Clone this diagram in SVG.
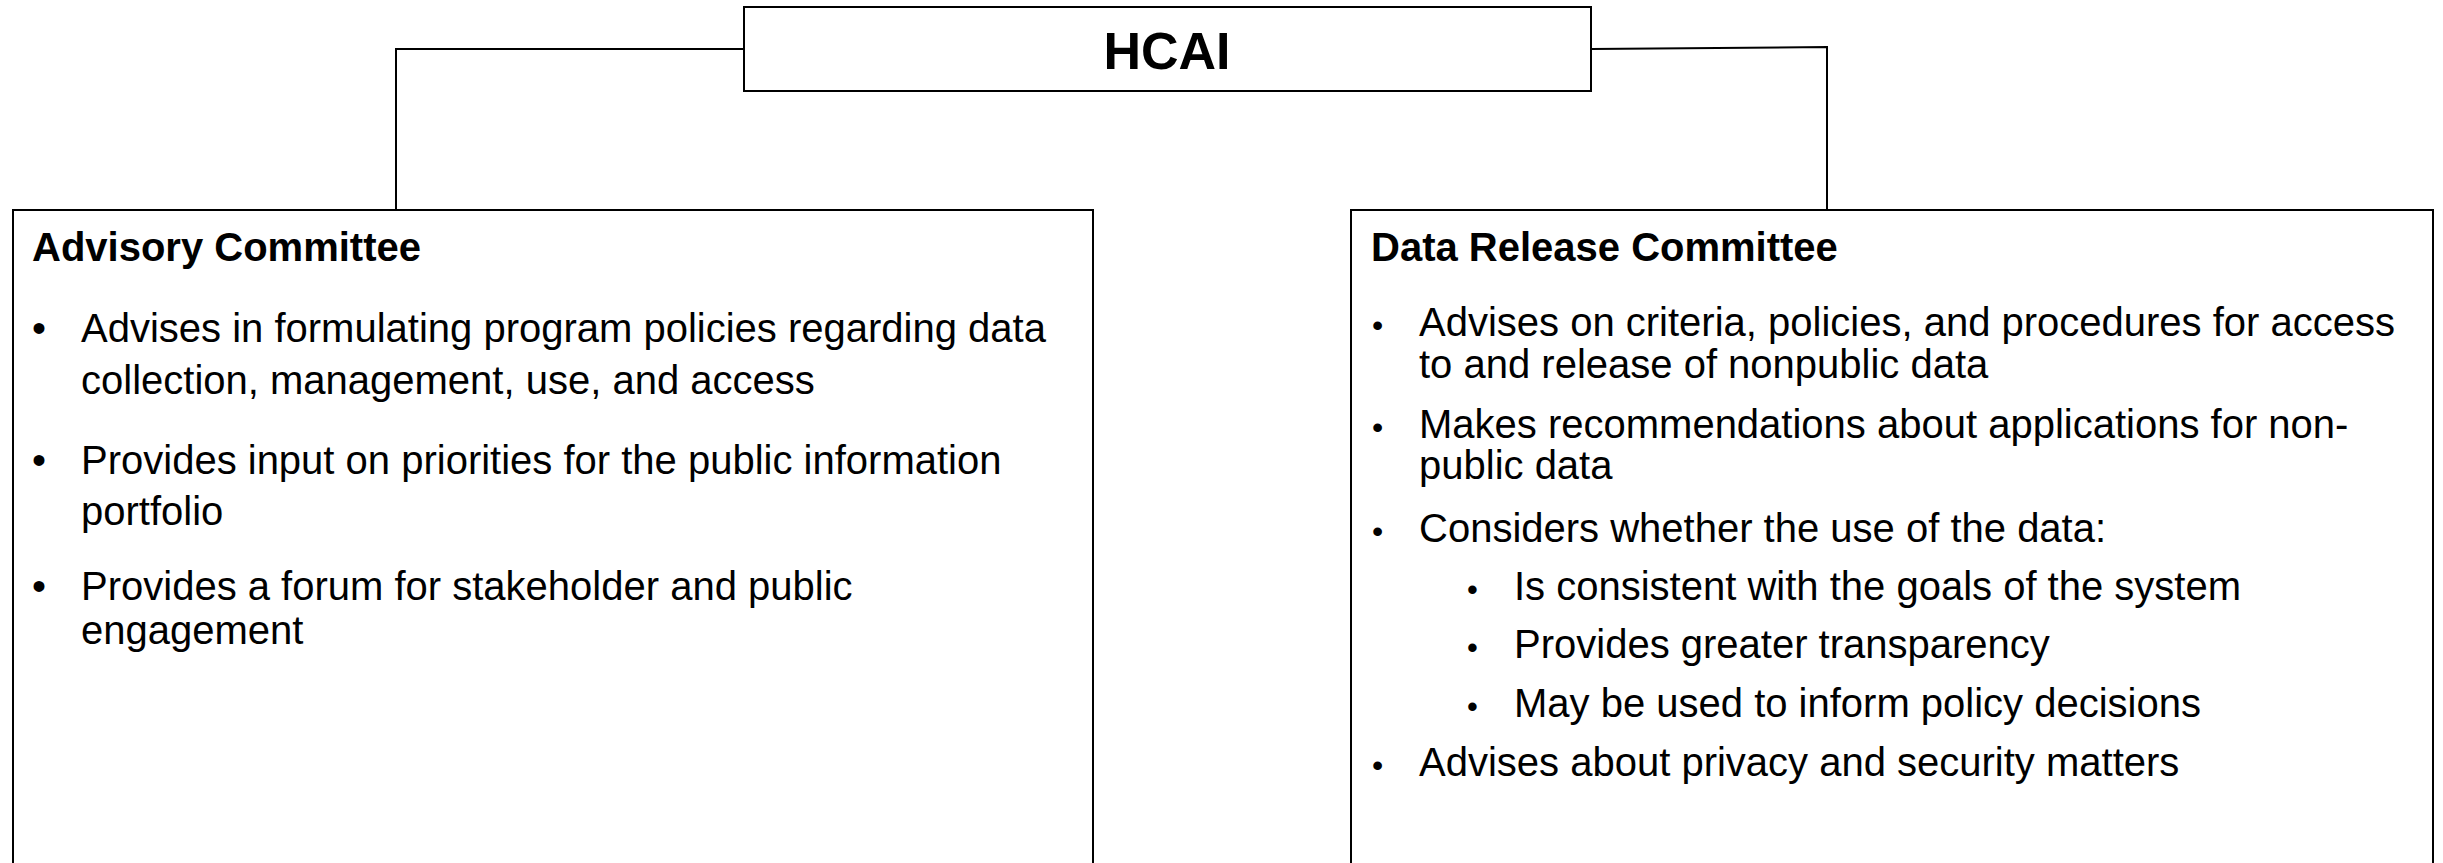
<svg xmlns="http://www.w3.org/2000/svg" width="2443" height="863" viewBox="0 0 2443 863">
  <style>
    .box { fill: #ffffff; stroke: #000000; stroke-width: 2; }
    .wire { fill: none; stroke: #000000; stroke-width: 2; }
    .head { font-family: "Liberation Sans", Arial, sans-serif; font-weight: bold; fill: #000000; }
    .item { font-family: "Liberation Sans", Arial, sans-serif; font-size: 40px; fill: #000000; }
    .dot { font-family: "Liberation Sans", Arial, sans-serif; font-size: 40px; fill: #000000; }
    .mdot { font-family: "Liberation Sans", Arial, sans-serif; font-size: 32px; fill: #000000; }
    .sdot { font-family: "Liberation Sans", Arial, sans-serif; font-size: 31px; fill: #000000; }
  </style>
  <rect width="2443" height="863" fill="#ffffff"/>

  <g id="connectors">
    <polyline class="wire" points="743,49 396,49 396,210"/>
    <polyline class="wire" points="1591,49 1827,47 1827,210"/>
  </g>

  <g id="hcai">
    <rect class="box" x="744" y="7" width="847" height="84"/>
    <text class="head" x="1167" y="69" font-size="52" text-anchor="middle">HCAI</text>
  </g>

  <g id="advisory-committee">
    <rect class="box" x="13" y="210" width="1080" height="670"/>
    <g transform="translate(0,1.5)">
      <text class="head" x="32" y="259" font-size="40">Advisory Committee</text>
      <text class="dot" x="32" y="340">•</text>
      <text class="item" x="81" y="340">Advises in formulating program policies regarding data</text>
      <text class="item" x="81" y="392">collection, management, use, and access</text>
      <text class="dot" x="32" y="472">•</text>
      <text class="item" x="81" y="472">Provides input on priorities for the public information</text>
      <text class="item" x="81" y="523">portfolio</text>
      <text class="dot" x="32" y="598">•</text>
      <text class="item" x="81" y="598">Provides a forum for stakeholder and public</text>
      <text class="item" x="81" y="642">engagement</text>
    </g>
  </g>

  <g id="data-release-committee">
    <rect class="box" x="1351" y="210" width="1082" height="670"/>
    <g transform="translate(0,1.5)">
      <text class="head" x="1371" y="259" font-size="40">Data Release Committee</text>
      <text class="mdot" x="1372" y="334">•</text>
      <text class="item" x="1419" y="334">Advises on criteria, policies, and procedures for access</text>
      <text class="item" x="1419" y="376">to and release of nonpublic data</text>
      <text class="mdot" x="1372" y="436">•</text>
      <text class="item" x="1419" y="436">Makes recommendations about applications for non-</text>
      <text class="item" x="1419" y="477">public data</text>
      <text class="mdot" x="1372" y="540">•</text>
      <text class="item" x="1419" y="540">Considers whether the use of the data:</text>
      <text class="sdot" x="1467" y="598">•</text>
      <text class="item" x="1514" y="598">Is consistent with the goals of the system</text>
      <text class="sdot" x="1467" y="656">•</text>
      <text class="item" x="1514" y="656">Provides greater transparency</text>
      <text class="sdot" x="1467" y="715">•</text>
      <text class="item" x="1514" y="715">May be used to inform policy decisions</text>
      <text class="mdot" x="1372" y="774">•</text>
      <text class="item" x="1419" y="774">Advises about privacy and security matters</text>
    </g>
  </g>
</svg>
